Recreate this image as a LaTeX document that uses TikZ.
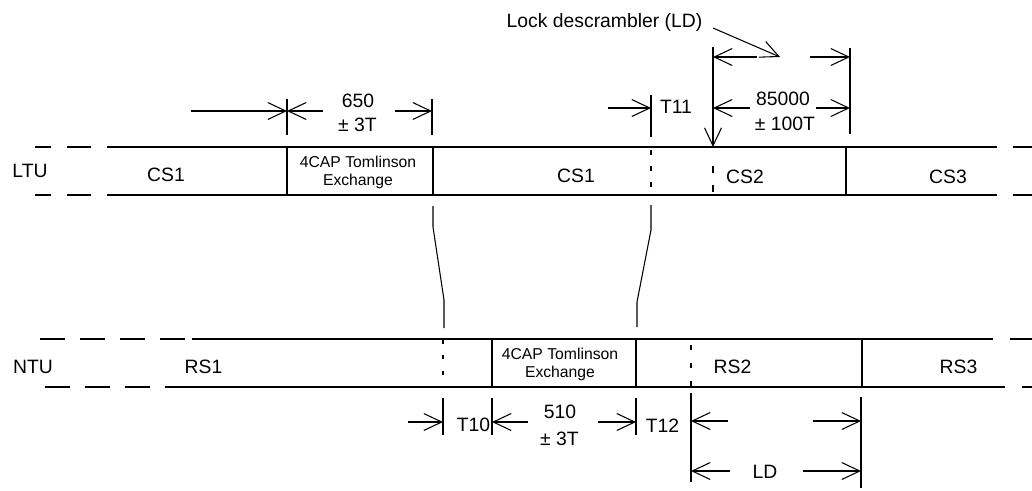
\documentclass[tikz,border=0pt]{standalone}
\usepackage{fontspec}
\setmainfont{Liberation Sans}
\usetikzlibrary{arrows.meta}
\tikzset{
  ln/.style={line width=0.8pt, line cap=butt},
  dim/.style={ln, -{Straight Barb[length=13.5pt,width=12.75pt,line width=0.8pt]}},
  lbl/.style={inner sep=0pt, anchor=base, font=\fontsize{14.5}{17}\selectfont},
  boxlbl/.style={inner sep=0pt, anchor=base, font=\fontsize{11.8}{14}\selectfont},
}
\begin{document}
\begin{tikzpicture}[x=0.75pt,y=-0.75pt]
\useasboundingbox (0,0) rectangle (1032,490);

% ---------- LTU bar ----------
\foreach \yy in {147,195}{
  \draw[ln] (35,\yy) -- (51,\yy);
  \draw[ln] (67,\yy) -- (91,\yy);
  \draw[ln] (107,\yy) -- (997,\yy);
  \draw[ln] (1013,\yy) -- (1032,\yy);
}
\draw[ln] (287,147) -- (287,195);
\draw[ln] (433,147) -- (433,195);
\draw[ln] (846,147) -- (846,195);
\draw[ln, dash pattern=on 4pt off 8pt] (651,150) -- (651,195);
\draw[ln, dash pattern=on 5.5pt off 8.5pt] (713,166) -- (713,195);

\node[lbl] (ltu) at (30,177) {LTU};
\node[lbl] (cs1a) at (166,181) {CS1};
\node[boxlbl] (capa1) at (358,167) {4CAP Tomlinson};
\node[boxlbl] (capa2) at (358,185) {Exchange};
\node[lbl] (cs1b) at (576,182) {CS1};
\node[lbl] (cs2) at (745,183) {CS2};
\node[lbl] (cs3) at (948,183) {CS3};

% ---------- NTU bar ----------
\foreach \xa/\xb in {40/65,80/105,120/145,160/185}{
  \draw[ln] (\xa,339) -- (\xb,339);
}
\draw[ln] (192,339) -- (993,339);
\draw[ln] (1010,339) -- (1032,339);
\foreach \xa/\xb in {45/70,85/110,125/150,165/190}{
  \draw[ln] (\xa,387) -- (\xb,387);
}
\draw[ln] (190,387) -- (1005,387);
\draw[ln] (1022,387) -- (1032,387);
\draw[ln] (492,339) -- (492,387);
\draw[ln] (636,339) -- (636,387);
\draw[ln] (862,339) -- (862,387);
\draw[ln, dash pattern=on 3pt off 8.5pt] (443,340) -- (443,387);
\draw[ln, dash pattern=on 4pt off 9.5pt] (691,345) -- (691,387);

\node[lbl] (ntu) at (33,373) {NTU};
\node[lbl] (rs1) at (203.5,373) {RS1};
\node[boxlbl] (capb1) at (560,359) {4CAP Tomlinson};
\node[boxlbl] (capb2) at (560,377) {Exchange};
\node[lbl] (rs2) at (732.5,373) {RS2};
\node[lbl] (rs3) at (958.5,373) {RS3};

% ---------- links between the bars ----------
\draw[ln] (433,206) -- (433,227) -- (444,300) -- (444,328);
\draw[ln] (651,205) -- (651,230) -- (637,302) -- (637,327);

% ---------- top dimensions ----------
\draw[ln] (287,99) -- (287,135);
\draw[ln] (432,99) -- (432,135);
\draw[dim] (191,111) -- (287,111);
\draw[dim] (323,111) -- (287,111);
\draw[dim] (395,111) -- (432,111);
\node[lbl] (d650) at (358,107) {650};
\node[lbl] (d650b) at (357.5,131) {\char"00B1\ 3T};

\draw[ln] (651,95) -- (651,137);
\draw[dim] (608,108) -- (651,108);
\node[lbl] (t11) at (676,113) {T11};

\draw[dim] (713,47) -- (713,147);
\draw[ln] (850,48) -- (850,134);
\draw[dim] (750,108) -- (713,108);
\draw[dim] (816,108) -- (850,108);
\node[lbl] (d85) at (783,105) {85000};
\node[lbl] (d85b) at (785,130) {\char"00B1\ 100T};

\draw[dim] (757,57) -- (713,57);
\draw[dim] (810,57) -- (850,57);
\node[lbl] (lock) at (604.5,27) {Lock descrambler (LD)};
\coordinate (lockend) at (780,57);
\draw[dim] (713,28) -- (lockend);

% ---------- bottom dimensions ----------
\draw[ln] (443,398) -- (443,435);
\draw[ln] (492,398) -- (492,435);
\draw[ln] (636,398) -- (636,435);
\draw[dim] (408,422) -- (443,422);
\node[lbl] (t10) at (473.5,431) {T10};
\draw[dim] (528,422) -- (492,422);
\draw[dim] (598,422) -- (636,422);
\node[lbl] (d510) at (560,418) {510};
\node[lbl] (d510b) at (559.5,445) {\char"00B1\ 3T};
\node[lbl] (t12) at (662.5,432) {T12};

\draw[ln] (691,393) -- (691,482);
\draw[ln] (861,397) -- (861,488);
\draw[dim] (728,421) -- (691,421);
\draw[dim] (813,421) -- (861,421);
\draw[dim] (730,471) -- (691,471);
\draw[dim] (803,471) -- (861,471);
\node[lbl] (ld) at (765,478) {LD};
\end{tikzpicture}
\end{document}
